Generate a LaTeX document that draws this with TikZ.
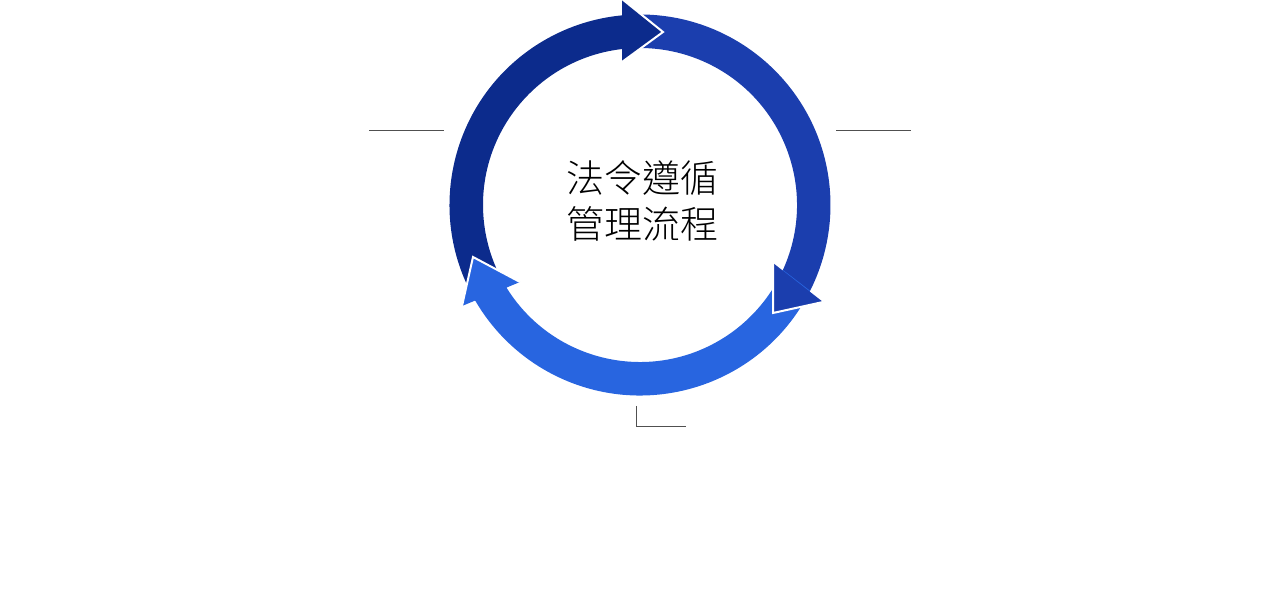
\documentclass[tikz,border=0pt]{standalone}
\usepackage{fontspec}
\newfontfamily\cjk{Noto Sans CJK TC Light}
\definecolor{cdark}{HTML}{0C2B8C}
\definecolor{cmed}{HTML}{1B3EAE}
\definecolor{clight}{HTML}{2865E0}
\definecolor{cline}{HTML}{505050}
\tikzset{
  headedge/.style={draw=white, line width=2pt, line join=miter},
  leader/.style={draw=cline, line width=1pt},
  titletext/.style={font=\cjk\fontsize{38}{46}\selectfont, align=center, inner sep=0pt, text=black}
}
\begin{document}
\begin{tikzpicture}[x=1pt,y=1pt]
\useasboundingbox (0,0) rectangle (1274,605);
% ring bodies
\begin{scope}[shift={(640,400)}]
  \fill[cdark] (210.21:190.5) arc[start angle=210.21, end angle=94.4, radius=190.5]
     -- (95.6:157) arc[start angle=95.6, end angle=211.98, radius=157] -- cycle;
  \fill[cmed] (95.42:190.5) arc[start angle=95.42, end angle=-27.8, radius=190.5]
     -- (-25.4:157) arc[start angle=-25.4, end angle=96.58, radius=157] -- cycle;
  \fill[clight] (-26.76:190.5) arc[start angle=-26.76, end angle=-150.8, radius=190.5]
     -- (-149.0:157) arc[start angle=-149.0, end angle=-24.43, radius=157] -- cycle;
\end{scope}
% arrow heads
\coordinate (tI) at (622,543); \coordinate (tO) at (622,606); \coordinate (tT) at (663,573);
\coordinate (rI) at (773,342); \coordinate (rO) at (823,303); \coordinate (rT) at (773,292);
\coordinate (lI) at (520,323); \coordinate (lO) at (462,299); \coordinate (lT) at (473,348);
\fill[cdark] (tI) -- (tO) -- (tT) -- cycle;
\draw[headedge] (tO) -- (tT) -- (tI);
\fill[cmed] (rI) -- (rO) -- (rT) -- cycle;
\draw[headedge] (rO) -- (rT) -- (rI);
\fill[clight] (lI) -- (lO) -- (lT) -- cycle;
\draw[headedge] (lO) -- (lT) -- (lI);
% title
\node[titletext] (title) at (642,404.5) {法令遵循\\管理流程};
% leader lines
\coordinate (la) at (369,474); \coordinate (lb) at (444,474);
\coordinate (ra) at (836,474); \coordinate (rb) at (911,474);
\coordinate (ba) at (636,199); \coordinate (bc) at (636,178); \coordinate (bb) at (686,178);
\draw[leader] (la) -- (lb);
\draw[leader] (ra) -- (rb);
\draw[leader] (ba) -- (bc) -- (bb);
\end{tikzpicture}
\end{document}
